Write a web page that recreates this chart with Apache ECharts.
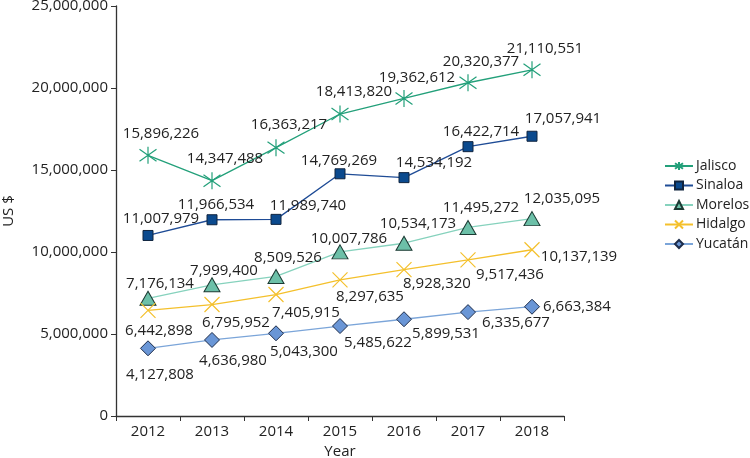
<!DOCTYPE html>
<html>
<head>
<meta charset="utf-8">
<script src="https://cdn.jsdelivr.net/npm/echarts@6/dist/echarts.min.js"></script>
<style>
  html, body { margin: 0; padding: 0; background: #fff; }
  #chart { width: 750px; height: 458px; }
</style>
</head>
<body>
<div id="chart"></div>
<script>
// data
const years = ["2012", "2013", "2014", "2015", "2016", "2017", "2018"];
const jalisco = [15896226, 14347488, 16363217, 18413820, 19362612, 20320377, 21110551];
const sinaloa = [11007979, 11966534, 11989740, 14769269, 14534192, 16422714, 17057941];
const morelos = [7176134, 7999400, 8509526, 10007786, 10534173, 11495272, 12035095];
const hidalgo = [6442898, 6795952, 7405915, 8297635, 8928320, 9517436, 10137139];
const yucatan = [4127808, 4636980, 5043300, 5485622, 5899531, 6335677, 6663384];
const yTicks = { min: 0, max: 25000000, interval: 5000000 };

// where each value label sits relative to its marker (px)
const offJalisco = [[13, -22], [13, -22], [13, -23], [14, -22], [13, -21], [13, -21], [13, -21]];
const offSinaloa = [[13, -17], [4, -15], [32, -14], [-1, -13], [30, -15], [13, -15], [31, -18]];
const offMorelos = [[12, -15], [12, -14], [12, -19], [9, -13], [14, -20], [13, -20], [30, -20]];
const offHidalgo = [[11, 20], [24, 18], [30, 18], [30, 17], [33, 14], [42, 15], [47, 7]];
const offYucatan = [[12, 26], [21, 21], [28, 18], [38, 17], [42, 14], [48, 11], [45, 0]];

const FONT = "Open Sans";
const fmt = v => Number(v).toLocaleString("en-US");

function mkData(vals, offs) {
  return vals.map((v, i) => ({ value: v, label: { offset: offs[i] } }));
}

function mkSeries(name, vals, offs, line, symbol, size, item) {
  return {
    name: name,
    type: "line",
    data: mkData(vals, offs),
    symbol: symbol,
    symbolSize: size,
    showAllSymbol: true,
    lineStyle: { color: line, width: 1.3 },
    itemStyle: item,
    label: {
      show: true,
      position: "inside",
      align: "center",
      verticalAlign: "middle",
      color: "#222",
      fontFamily: FONT,
      fontSize: 15,
      formatter: p => fmt(p.value)
    },
    emphasis: { disabled: true },
    z: 2
  };
}

const asterisk = "path://M10 0 L10 20 M0 3 L20 17 M20 3 L0 17";
const cross = "path://M0 0 L20 20 M20 0 L0 20";

let mycharts = echarts.init(document.getElementById("chart"), null, { renderer: "canvas" });
mycharts.setOption({
  animation: false,
  grid: { left: 116, right: 186, top: 6, bottom: 42, containLabel: false, outerBoundsMode: "none" },
  legend: {
    orient: "vertical",
    left: 664,
    top: 159,
    padding: 0,
    itemWidth: 28,
    itemHeight: 10,
    itemGap: 5.5,
    textStyle: { fontFamily: FONT, fontSize: 14, color: "#222", lineHeight: 12, padding: [0, 0, 0, -2] },
    data: ["Jalisco", "Sinaloa", "Morelos", "Hidalgo", "Yucatán"]
  },
  xAxis: {
    type: "category",
    data: years,
    boundaryGap: true,
    name: "Year",
    nameLocation: "middle",
    nameGap: 26,
    nameTextStyle: { fontFamily: FONT, fontSize: 15, color: "#222" },
    axisLine: { lineStyle: { color: "#333", width: 1.3 } },
    axisTick: { show: true, alignWithLabel: false, length: 5, lineStyle: { color: "#333" } },
    axisLabel: { fontFamily: FONT, fontSize: 15, color: "#222", margin: 8 },
    splitLine: { show: false }
  },
  yAxis: {
    type: "value",
    min: yTicks.min,
    max: yTicks.max,
    interval: yTicks.interval,
    name: "US $",
    nameLocation: "middle",
    nameRotate: 90,
    nameGap: 100,
    nameTextStyle: { fontFamily: FONT, fontSize: 15, color: "#222" },
    axisLine: { show: true, lineStyle: { color: "#333", width: 1.3 } },
    axisTick: { show: true, length: 5, lineStyle: { color: "#333" } },
    axisLabel: { fontFamily: FONT, fontSize: 15, color: "#222", margin: 8, formatter: v => fmt(v) },
    splitLine: { show: false }
  },
  series: [
    mkSeries("Jalisco", jalisco, offJalisco, "#23a07a", asterisk, 17,
      { color: "none", borderColor: "#23a07a", borderWidth: 1.2 }),
    mkSeries("Sinaloa", sinaloa, offSinaloa, "#1f4c96", "rect", 10,
      { color: "#0b4a8e", borderColor: "#10243f", borderWidth: 1 }),
    mkSeries("Morelos", morelos, offMorelos, "#86d2bd", "triangle", [16, 14],
      { color: "#6cc0a8", borderColor: "#1c3a33", borderWidth: 1 }),
    mkSeries("Hidalgo", hidalgo, offHidalgo, "#f4c02c", cross, 15,
      { color: "none", borderColor: "#f4c02c", borderWidth: 1.2 }),
    mkSeries("Yucatán", yucatan, offYucatan, "#7ba5d9", "diamond", 15,
      { color: "#6a96d6", borderColor: "#1c2c4a", borderWidth: 1 })
  ]
});
</script>
</body>
</html>
